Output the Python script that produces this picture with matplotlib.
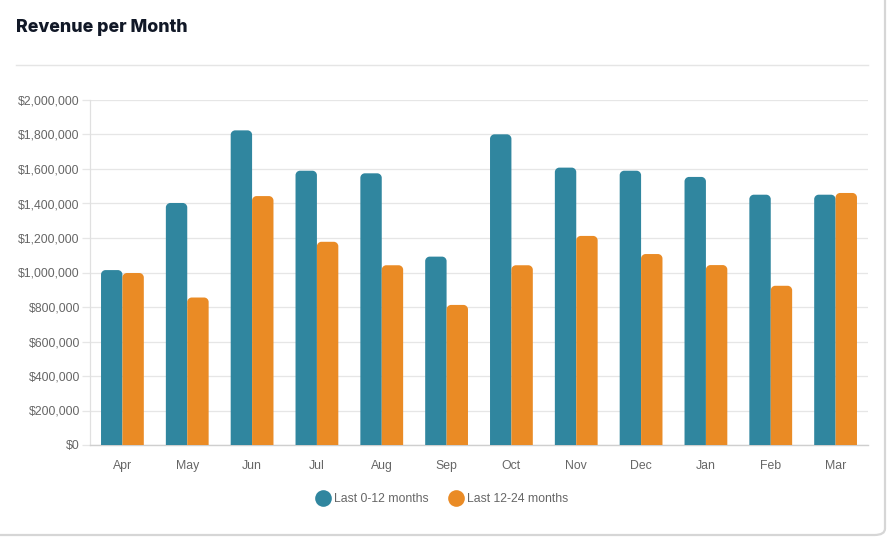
import matplotlib
matplotlib.use("Agg")
import matplotlib.pyplot as plt
from matplotlib.patches import PathPatch, FancyBboxPatch
from matplotlib.path import Path
from matplotlib.ticker import FuncFormatter, MultipleLocator
from matplotlib.lines import Line2D
import numpy as np

months = ["Apr", "May", "Jun", "Jul", "Aug", "Sep", "Oct", "Nov", "Dec", "Jan", "Feb", "Mar"]
last_0_12 = [1014000, 1403000, 1824000, 1590000, 1575000, 1092000, 1801000, 1608000, 1590000, 1554000, 1451000, 1451000]
last_12_24 = [997000, 855000, 1443000, 1178000, 1042000, 812000, 1042000, 1212000, 1107000, 1043000, 923000, 1461000]
series_names = ["Last 0-12 months", "Last 12-24 months"]

TEAL = "#30869f"
ORANGE = "#ea8b25"

W, H = 888, 538
fig = plt.figure(figsize=(W / 100, H / 100), dpi=100)
fig.patch.set_facecolor("white")

# card with shadow
card = FancyBboxPatch((-30 / W, 3 / H), (915) / W, (560) / H,
                      boxstyle="round,pad=0,rounding_size=0.012",
                      transform=fig.transFigure, facecolor="white",
                      edgecolor="#d6d6d6", linewidth=1.6, zorder=-5)
fig.patches.append(card)

ax = fig.add_axes([90 / W, (H - 445) / H, (868 - 90) / W, (445 - 100) / H])
ax.set_facecolor("none")
ax.set_zorder(2)

x = np.arange(len(months))
bw = 0.33
bars1 = ax.bar(x - bw / 2, last_0_12, width=bw, color=TEAL, label=series_names[0])
bars2 = ax.bar(x + bw / 2, last_12_24, width=bw, color=ORANGE, label=series_names[1])

ax.set_xlim(-0.5, len(months) - 0.5)
ax.set_ylim(0, 2000000)

# rounded tops
px_x = (ax.get_xlim()[1] - ax.get_xlim()[0]) / (868 - 90)
px_y = (ax.get_ylim()[1] - ax.get_ylim()[0]) / (445 - 100)
r_px = 4.5
for bars in (bars1, bars2):
    for b in bars:
        x0, w, h = b.get_x(), b.get_width(), b.get_height()
        rx, ry = r_px * px_x, r_px * px_y
        k = 0.5523
        verts = [(x0, 0), (x0, h - ry),
                 (x0, h - ry + k * ry), (x0 + rx - k * rx, h), (x0 + rx, h),
                 (x0 + w - rx, h),
                 (x0 + w - rx + k * rx, h), (x0 + w, h - ry + k * ry), (x0 + w, h - ry),
                 (x0 + w, 0), (x0, 0)]
        codes = [Path.MOVETO, Path.LINETO, Path.CURVE4, Path.CURVE4, Path.CURVE4,
                 Path.LINETO, Path.CURVE4, Path.CURVE4, Path.CURVE4, Path.LINETO, Path.CLOSEPOLY]
        patch = PathPatch(Path(verts, codes), facecolor=b.get_facecolor(), edgecolor="none", zorder=3)
        ax.add_patch(patch)
        b.set_visible(False)

ax.yaxis.set_major_locator(MultipleLocator(200000))
ax.yaxis.set_major_formatter(FuncFormatter(lambda v, p: "${:,.0f}".format(v)))
ax.set_xticks(x)
ax.set_xticklabels(months)

font = "Liberation Sans"
for lbl in ax.get_xticklabels() + ax.get_yticklabels():
    lbl.set_fontfamily(font)
    lbl.set_fontsize(8.8)
    lbl.set_color("#666666")

ax.grid(axis="y", color="#e6e6e6", linewidth=0.9, zorder=0)
ax.set_axisbelow(True)
ax.tick_params(axis="y", length=5.8, width=0.9, color="#e6e6e6", pad=1.5)
ax.tick_params(axis="x", length=0, pad=11)
for s in ["top", "right"]:
    ax.spines[s].set_visible(False)
ax.spines["left"].set_color("#e0e0e0")
ax.spines["left"].set_linewidth(0.9)
ax.spines["bottom"].set_color("#cfcfcf")
ax.spines["bottom"].set_linewidth(1.0)

# title and separator
fig.text(16 / W, 1 - 27.5 / H, "Revenue per Month", fontfamily="Inter", fontweight=800,
         fontsize=12.8, color="#111827", va="center", ha="left")
fig.add_artist(Line2D([16 / W, 868 / W], [1 - 65 / H, 1 - 65 / H], transform=fig.transFigure,
                      color="#e5e5e5", linewidth=1.0))

# legend
handles = [Line2D([], [], marker="o", linestyle="none", markersize=12, markerfacecolor=TEAL, markeredgecolor="none"),
           Line2D([], [], marker="o", linestyle="none", markersize=12, markerfacecolor=ORANGE, markeredgecolor="none")]
leg = fig.legend(handles, series_names, loc="center", bbox_to_anchor=(442 / W, 1 - 499 / H),
                 ncol=2, frameon=False, prop={"family": font, "size": 8.8},
                 handletextpad=0.3, columnspacing=1.6, handlelength=1.2)
for t in leg.get_texts():
    t.set_color("#666666")

fig.savefig("out.png", dpi=100, facecolor="white")
